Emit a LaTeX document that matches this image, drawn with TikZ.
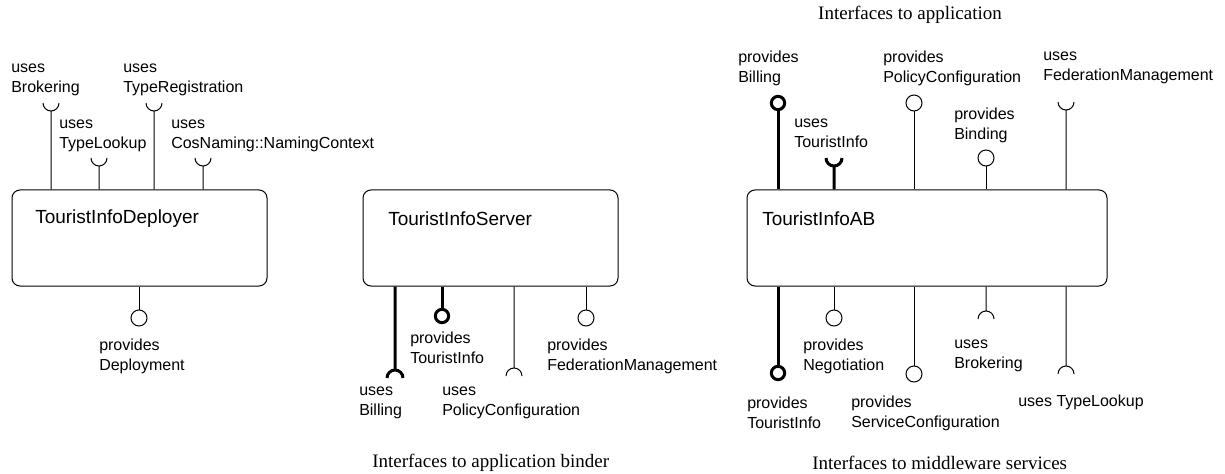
\documentclass[tikz,border=0pt]{standalone}
\usepackage{fontspec}
\setmainfont{Liberation Sans}
\newfontfamily\capfont{Liberation Serif}
\usetikzlibrary{positioning}
\tikzset{
    comp/.style={draw,rounded corners=6pt,line width=0.75pt},
    cname/.style={anchor=west,inner sep=0pt,font=\fontsize{14.25}{17}\selectfont},
    lbl/.style={anchor=west,align=left,inner sep=0pt,yshift=-3pt,font=\fontsize{12}{15}\selectfont},
    grouplbl/.style={inner sep=0pt,font=\capfont\fontsize{14.25}{17}\selectfont},
    iface/.style={line width=0.75pt},
    thickiface/.style={line width=2.25pt},
    ball/.style={circle,draw,fill=white,line width=0.75pt,inner sep=0pt,minimum size=12pt},
    thickball/.style={circle,draw,fill=white,line width=2.25pt,inner sep=0pt,minimum size=10pt}
}

\begin{document}
\begin{tikzpicture}[x=0.75pt,y=-0.75pt]
                \useasboundingbox (0,0) rectangle (1225,474);
                % components
                \node[comp,minimum width=191.25pt,minimum height=72pt] (dep) at (139.5,238) {};
                \node[comp,minimum width=191.25pt,minimum height=72pt] (srv) at (490.5,238) {};
                \node[comp,minimum width=270pt,minimum height=72pt] (ab) at (927,238) {};
                \node[cname] (depname) at (35,219) {TouristInfoDeployer};
                \node[cname] (srvname) at (388,219) {TouristInfoServer};
                \node[cname] (abname) at (762,219) {TouristInfoAB};

                % TouristInfoDeployer
                \coordinate (d1) at (51,111);
                \coordinate (d2) at (99,166);
                \coordinate (d3) at (154,111);
                \coordinate (d4) at (203,166);
                \foreach \s in {d1,d2,d3,d4}
                    \draw[iface] (\s |- dep.north) -- (\s) ++(-8,-8) arc[start angle=180,end angle=0,radius=8];
                \node[ball] (d5) at (139,318) {};
                \draw[iface] (d5) -- (d5 |- dep.south);
                \node[lbl] (d1lbl) at (11,76) {uses\\Brokering};
                \node[lbl] (d2lbl) at (59,132) {uses\\TypeLookup};
                \node[lbl] (d3lbl) at (123,76) {uses\\TypeRegistration};
                \node[lbl] (d4lbl) at (171,132) {uses\\CosNaming::NamingContext};
                \node[lbl] (d5lbl) at (99,352) {provides\\Deployment};

                % TouristInfoServer
                \coordinate (s1) at (395,370);
                \coordinate (s3) at (514,368);
                \draw[thickiface] (s1 |- srv.south) -- (s1) ++(-8,8) arc[start angle=180,end angle=360,radius=8];
                \draw[iface] (s3 |- srv.south) -- (s3) ++(-8,8) arc[start angle=180,end angle=360,radius=8];
                \node[thickball] (s2) at (442,316) {};
                \node[ball] (s4) at (586,318) {};
                \draw[thickiface] (s2) -- (s2 |- srv.south);
                \draw[iface] (s4) -- (s4 |- srv.south);
                \node[lbl] (s1lbl) at (359,399) {uses\\Billing};
                \node[lbl] (s2lbl) at (410,344) {provides\\TouristInfo};
                \node[lbl] (s3lbl) at (442,399) {uses\\PolicyConfiguration};
                \node[lbl] (s4lbl) at (547,352) {provides\\FederationManagement};

                % TouristInfoAB, top
                \node[thickball] (a1) at (778,103) {};
                \coordinate (a2) at (834,166);
                \node[ball] (a3) at (914,103) {};
                \node[ball] (a4) at (986,158) {};
                \coordinate (a5) at (1066,110);
                \draw[thickiface] (a1) -- (a1 |- ab.north);
                \draw[thickiface] (a2 |- ab.north) -- (a2) ++(-8,-8) arc[start angle=180,end angle=0,radius=8];
                \draw[iface] (a3) -- (a3 |- ab.north);
                \draw[iface] (a4) -- (a4 |- ab.north);
                \draw[iface] (a5 |- ab.north) -- (a5) ++(-8,-8) arc[start angle=180,end angle=0,radius=8];
                \node[lbl] (a1lbl) at (738,64) {provides\\Billing};
                \node[lbl] (a2lbl) at (794,129) {uses\\TouristInfo};
                \node[lbl] (a3lbl) at (883,64) {provides\\PolicyConfiguration};
                \node[lbl] (a4lbl) at (954,121) {provides\\Binding};
                \node[lbl] (a5lbl) at (1043,64) {uses\\FederationManagement};

                % TouristInfoAB, bottom
                \node[thickball] (a6) at (778,373) {};
                \node[ball] (a7) at (834,318) {};
                \node[ball] (a8) at (914,374) {};
                \coordinate (a9) at (986,311);
                \coordinate (a10) at (1066,366);
                \draw[thickiface] (a6) -- (a6 |- ab.south);
                \draw[iface] (a7) -- (a7 |- ab.south);
                \draw[iface] (a8) -- (a8 |- ab.south);
                \foreach \s in {a9,a10}
                    \draw[iface] (\s |- ab.south) -- (\s) ++(-8,8) arc[start angle=180,end angle=360,radius=8];
                \node[lbl] (a6lbl) at (747,409) {provides\\TouristInfo};
                \node[lbl] (a7lbl) at (803,352) {provides\\Negotiation};
                \node[lbl] (a8lbl) at (851,409) {provides\\ServiceConfiguration};
                \node[lbl] (a9lbl) at (954,352) {uses\\Brokering};
                \node[lbl] (a10lbl) at (1018,398) {uses TypeLookup};

                % captions
                \node[grouplbl] (capapp) at (910,15) {Interfaces to application};
                \node[grouplbl,anchor=west] (capbind) at (372,463) {Interfaces to application binder};
                \node[grouplbl,anchor=west] (capmw) at (812,463) {Interfaces to middleware services};
            \end{tikzpicture}
\end{document}
